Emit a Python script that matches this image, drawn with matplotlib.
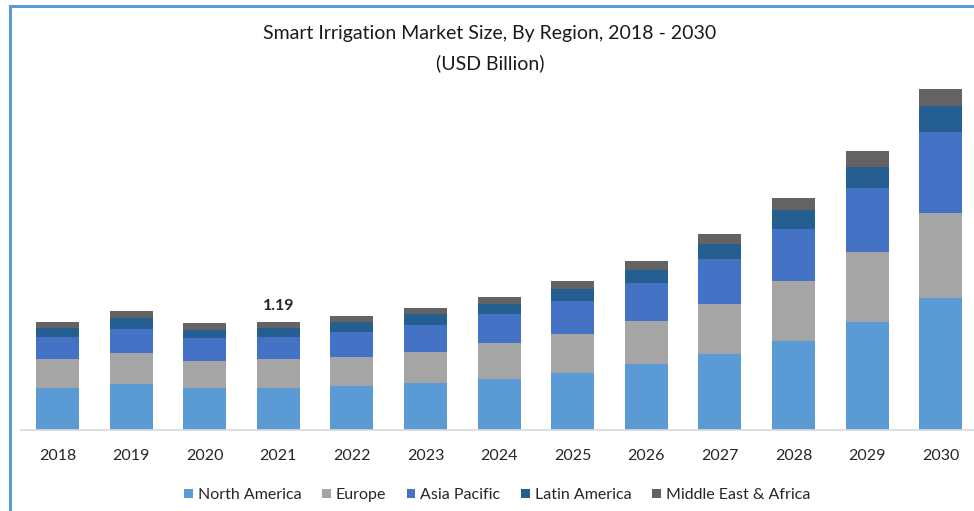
import matplotlib
matplotlib.use("Agg")
import matplotlib.pyplot as plt
from matplotlib.patches import Patch
from matplotlib.lines import Line2D
import numpy as np

years = ["2018", "2019", "2020", "2021", "2022", "2023", "2024",
         "2025", "2026", "2027", "2028", "2029", "2030"]
north_america = [0.458, 0.502, 0.458, 0.458, 0.484, 0.513, 0.560, 0.630, 0.722, 0.835, 0.978, 1.184, 1.447]
europe        = [0.319, 0.347, 0.303, 0.319, 0.322, 0.347, 0.392, 0.422, 0.476, 0.549, 0.656, 0.769, 0.941]
asia_pacific  = [0.245, 0.260, 0.246, 0.245, 0.275, 0.293, 0.319, 0.366, 0.421, 0.495, 0.575, 0.710, 0.884]
latin_america = [0.102, 0.124, 0.091, 0.102, 0.103, 0.118, 0.113, 0.129, 0.140, 0.165, 0.209, 0.231, 0.289]
mea           = [0.066, 0.077, 0.080, 0.066, 0.073, 0.066, 0.080, 0.095, 0.102, 0.107, 0.129, 0.173, 0.184]
series_names = ["North America", "Europe", "Asia Pacific", "Latin America", "Middle East & Africa"]
annotation_year = "2021"
annotation_text = "1.19"

colors = ["#5B9BD5", "#A5A5A5", "#4472C4", "#255E91", "#636363"]
font = ["Lato", "DejaVu Sans"]
plt.rcParams['font.family'] = font

W, H = 974, 511
fig = plt.figure(figsize=(W / 100, H / 100), dpi=100)
fig.patch.set_facecolor("white")

ax_left, ax_right = 20.7, 977.5
ax_bottom, ax_top = 430, 80
ax = fig.add_axes([ax_left / W, 1 - ax_bottom / H, (ax_right - ax_left) / W, (ax_bottom - ax_top) / H])
ppu = 91.0
ax.set_ylim(0, (ax_bottom - ax_top) / ppu)
x = np.arange(len(years))
ax.set_xlim(-0.5, len(years) - 0.5)

data = [north_america, europe, asia_pacific, latin_america, mea]
bottom = np.zeros(len(years))
for vals, c, name in zip(data, colors, series_names):
    ax.bar(x, vals, width=0.585, bottom=bottom, color=c, label=name, zorder=2)
    bottom += np.array(vals)

i = years.index(annotation_year)
ax.text(x[i], bottom[i] + 0.1, annotation_text, ha="center", va="bottom",
        fontsize=11.5, fontweight="bold", color="#262626")

for s in ["top", "right", "left"]:
    ax.spines[s].set_visible(False)
ax.spines["bottom"].set_color("#D9D9D9")
ax.spines["bottom"].set_linewidth(1.2)
ax.set_yticks([])
ax.set_xticks(x)
ax.set_xticklabels(years, fontsize=11.5, color="#262626")
ax.tick_params(axis="x", length=0, pad=14)

fig.text(490 / W, 1 - 33 / H, "Smart Irrigation Market Size, By Region, 2018 - 2030",
         ha="center", va="center", fontsize=14, color="#1a1a1a")
fig.text(490 / W, 1 - 63 / H, "(USD Billion)", ha="center", va="center",
         fontsize=14, color="#1a1a1a")

handles = [Patch(facecolor=c, edgecolor="none") for c in colors]
fig.legend(handles, series_names, loc="center", bbox_to_anchor=(497 / W, 1 - 495 / H),
           ncol=5, frameon=False, fontsize=11.5, handlelength=0.55, handleheight=0.55,
           handletextpad=0.3, columnspacing=1.3, labelcolor="#262626")

# frame lines (top and left)
fig.add_artist(Line2D([10 / W, 1], [1 - 6.5 / H, 1 - 6.5 / H], color="#5B9BD5", lw=2.2,
                      transform=fig.transFigure))
fig.add_artist(Line2D([10 / W, 10 / W], [0, 1 - 6.5 / H], color="#5B9BD5", lw=2.2,
                      transform=fig.transFigure))

fig.savefig("out.png", dpi=100, facecolor="white")
